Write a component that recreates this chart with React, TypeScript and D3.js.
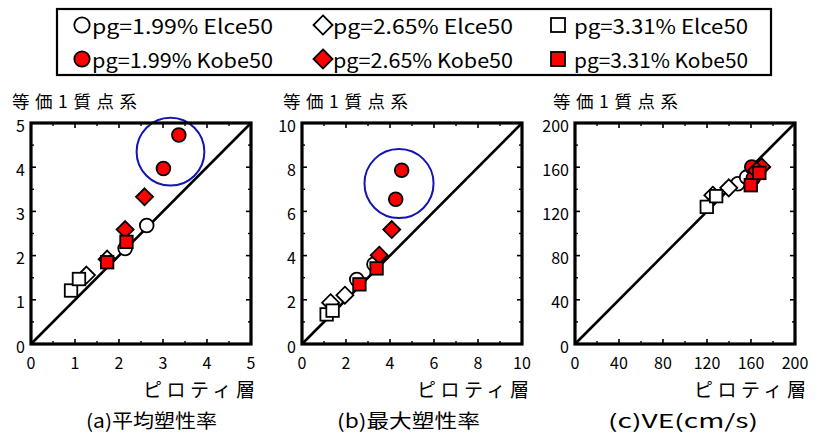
import React from "react";
import * as d3 from "d3";

// ---- Legend / series ----
const seriesLabels = [
  "pg=1.99% Elce50",
  "pg=2.65% Elce50",
  "pg=3.31% Elce50",
  "pg=1.99% Kobe50",
  "pg=2.65% Kobe50",
  "pg=3.31% Kobe50",
];
const seriesShapes = ["circle", "diamond", "square", "circle", "diamond", "square"];
const seriesFills = ["#ffffff", "#ffffff", "#ffffff", "#ff0000", "#ff0000", "#ff0000"];

// ---- (a) 平均塑性率 : [ピロティ層, 等価1質点系] ----
const avgElce199 = [[2.14, 2.16], [2.63, 2.68]];
const avgElce265 = [[1.26, 1.56], [1.73, 1.92]];
const avgElce331 = [[0.91, 1.21], [1.09, 1.47]];
const avgKobe199 = [[3.01, 3.97], [3.36, 4.73]];
const avgKobe265 = [[2.14, 2.59], [2.58, 3.33]];
const avgKobe331 = [[1.73, 1.85], [2.17, 2.31]];

// ---- (b) 最大塑性率 ----
const maxElce199 = [[2.49, 2.92], [3.27, 3.61]];
const maxElce265 = [[1.3, 1.87], [1.95, 2.21]];
const maxElce331 = [[1.12, 1.34], [1.39, 1.51]];
const maxKobe199 = [[4.26, 6.55], [4.53, 7.86]];
const maxKobe265 = [[3.51, 4.02], [4.08, 5.18]];
const maxKobe331 = [[2.61, 2.7], [3.39, 3.42]];

// ---- (c) VE (cm/s) ----
const veElce199 = [[148, 145], [156, 151]];
const veElce265 = [[125.3, 134.7], [139.8, 141.3]];
const veElce331 = [[119.8, 124.1], [128.3, 133.8]];
const veKobe199 = [[160.7, 160.2], [162, 150]];
const veKobe265 = [[169.8, 160.2], [165, 157]];
const veKobe331 = [[159.8, 143.7], [167.6, 154.8]];

// axis extents and ticks
const avgTicks = [0, 1, 2, 3, 4, 5];
const maxTicks = [0, 2, 4, 6, 8, 10];
const veTicks = [0, 40, 80, 120, 160, 200];

// highlighted groups: [cx, cy, radius] in data units of x
const avgHighlight = [3.17, 4.35, 0.77];
const maxHighlight = [4.41, 7.26, 1.57];

const yTitle = "等価1質点系";
const xTitle = "ピロティ層";
const captions = ["(a)平均塑性率", "(b)最大塑性率", "(c)VE(cm/s)"];

const FONT = "'Noto Sans CJK JP', 'Noto Sans', sans-serif";

function Marker({ shape, x, y, fill, size }: { shape: string; x: number; y: number; fill: string; size: number }) {
  const sw = 1.8;
  if (shape === "circle") {
    return <circle cx={x} cy={y} r={size * 0.55} fill={fill} stroke="#000" strokeWidth={sw} />;
  }
  if (shape === "diamond") {
    const h = size * 0.68;
    return (
      <path
        d={`M${x},${y - h}L${x + h},${y}L${x},${y + h}L${x - h},${y}Z`}
        fill={fill}
        stroke="#000"
        strokeWidth={sw}
      />
    );
  }
  const s = size * 0.5;
  return <rect x={x - s} y={y - s} width={2 * s} height={2 * s} fill={fill} stroke="#000" strokeWidth={sw} />;
}

type PanelProps = {
  left: number;
  max: number;
  ticks: number[];
  minor: number;
  series: number[][][];
  highlight?: number[];
  yTitleX: number;
  xTitleEnd: number;
  caption: string;
  captionX: number;
  captionLen: number;
};

const TOP = 123;
const BOTTOM = 344;
const SIZE = 220;

function Panel(p: PanelProps) {
  const x = d3.scaleLinear().domain([0, p.max]).range([p.left, p.left + SIZE]);
  const y = d3.scaleLinear().domain([0, p.max]).range([BOTTOM, TOP]);
  const minorTicks = d3.range(0, p.max + p.minor / 2, p.minor).filter((v) => !p.ticks.includes(+v.toFixed(6)));
  const majLen = 5;
  const minLen = 3;
  const x0 = p.left;
  const x1 = p.left + SIZE;
  const line = d3.line<number[]>().x((d) => x(d[0])).y((d) => y(d[1]));
  return (
    <g>
      {/* tick marks, inward on all sides */}
      {p.ticks.map((t) => (
        <g key={"M" + t} stroke="#000" strokeWidth={1.6}>
          <line x1={x(t)} x2={x(t)} y1={BOTTOM} y2={BOTTOM - majLen} />
          <line x1={x(t)} x2={x(t)} y1={TOP} y2={TOP + majLen} />
          <line x1={x0} x2={x0 + majLen} y1={y(t)} y2={y(t)} />
          <line x1={x1} x2={x1 - majLen} y1={y(t)} y2={y(t)} />
        </g>
      ))}
      {minorTicks.map((t) => (
        <g key={"m" + t} stroke="#000" strokeWidth={1.4}>
          <line x1={x(t)} x2={x(t)} y1={BOTTOM} y2={BOTTOM - minLen} />
          <line x1={x(t)} x2={x(t)} y1={TOP} y2={TOP + minLen} />
          <line x1={x0} x2={x0 + minLen} y1={y(t)} y2={y(t)} />
          <line x1={x1} x2={x1 - minLen} y1={y(t)} y2={y(t)} />
        </g>
      ))}
      {/* 1:1 line */}
      <path d={line([[0, 0], [p.max, p.max]]) || ""} stroke="#000" strokeWidth={2.6} fill="none" />
      {/* markers */}
      {p.series.map((pts, si) =>
        pts.map((d, i) => (
          <Marker
            key={si + "-" + i}
            shape={seriesShapes[si]}
            x={x(d[0])}
            y={y(d[1])}
            fill={seriesFills[si]}
            size={12.5}
          />
        ))
      )}
      {p.highlight && (
        <circle
          cx={x(p.highlight[0])}
          cy={y(p.highlight[1])}
          r={x(p.highlight[2]) - x(0)}
          fill="none"
          stroke="#1414b4"
          strokeWidth={2}
        />
      )}
      {/* frame */}
      <rect x={x0} y={TOP} width={SIZE} height={BOTTOM - TOP} fill="none" stroke="#000" strokeWidth={3.2} />
      {/* tick labels */}
      {p.ticks.map((t) => (
        <text
          key={"xl" + t}
          x={x(t)}
          y={362}
          textAnchor="middle"
          dominantBaseline="central"
          fontSize={16}
          fontFamily={FONT}
        >
          {t}
        </text>
      ))}
      {p.ticks.map((t) => (
        <text
          key={"yl" + t}
          x={x0 - 6}
          y={y(t) + 1.5}
          textAnchor="end"
          dominantBaseline="central"
          fontSize={16}
          fontFamily={FONT}
        >
          {t}
        </text>
      ))}
      {/* titles */}
      <text
        x={p.yTitleX}
        y={100}
        dominantBaseline="central"
        fontSize={17.5}
        fontFamily={FONT}
        textLength={125}
        lengthAdjust="spacing"
      >
        {yTitle}
      </text>
      <text
        x={p.xTitleEnd - 112}
        y={388}
        dominantBaseline="central"
        fontSize={19}
        fontFamily={FONT}
        textLength={112}
        lengthAdjust="spacing"
      >
        {xTitle}
      </text>
      <text
        x={p.captionX}
        y={419}
        dominantBaseline="central"
        fontSize={19}
        fontFamily={FONT}
        textLength={p.captionLen}
        lengthAdjust="spacingAndGlyphs"
      >
        {p.caption}
      </text>
    </g>
  );
}

function Legend() {
  const colSym = [82, 323, 558];
  const colText = [92, 333, 574];
  const colLen = [181, 180, 174];
  const rowY = [25, 59];
  return (
    <g>
      <rect x={57} y={9} width={714} height={66} fill="#fff" stroke="#000" strokeWidth={2.2} />
      {seriesLabels.map((lab, i) => {
        const c = i % 3;
        const r = Math.floor(i / 3);
        return (
          <g key={lab}>
            <Marker shape={seriesShapes[i]} x={colSym[c]} y={rowY[r]} fill={seriesFills[i]} size={14} />
            <text
              x={colText[c]}
              y={rowY[r]}
              dominantBaseline="central"
              fontSize={20}
              fontFamily={FONT}
              textLength={colLen[c]}
              lengthAdjust="spacingAndGlyphs"
            >
              {lab}
            </text>
          </g>
        );
      })}
    </g>
  );
}

export default function App() {
  return (
    <svg
      width={824}
      height={437}
      viewBox="0 0 824 437"
      style={{ position: "absolute", left: 0, top: 0, background: "#fff" }}
    >
      <rect width={824} height={437} fill="#fff" />
      <Legend />
      <Panel
        left={31}
        max={5}
        ticks={avgTicks}
        minor={0.5}
        series={[avgElce199, avgElce265, avgElce331, avgKobe199, avgKobe265, avgKobe331]}
        highlight={avgHighlight}
        yTitleX={12}
        xTitleEnd={255}
        caption={captions[0]}
        captionX={86}
        captionLen={131}
      />
      <Panel
        left={302}
        max={10}
        ticks={maxTicks}
        minor={1}
        series={[maxElce199, maxElce265, maxElce331, maxKobe199, maxKobe265, maxKobe331]}
        highlight={maxHighlight}
        yTitleX={283}
        xTitleEnd={529}
        caption={captions[1]}
        captionX={337}
        captionLen={143}
      />
      <Panel
        left={575}
        max={200}
        ticks={veTicks}
        minor={20}
        series={[veElce199, veElce265, veElce331, veKobe199, veKobe265, veKobe331]}
        yTitleX={553}
        xTitleEnd={806}
        caption={captions[2]}
        captionX={608}
        captionLen={150}
      />
    </svg>
  );
}
